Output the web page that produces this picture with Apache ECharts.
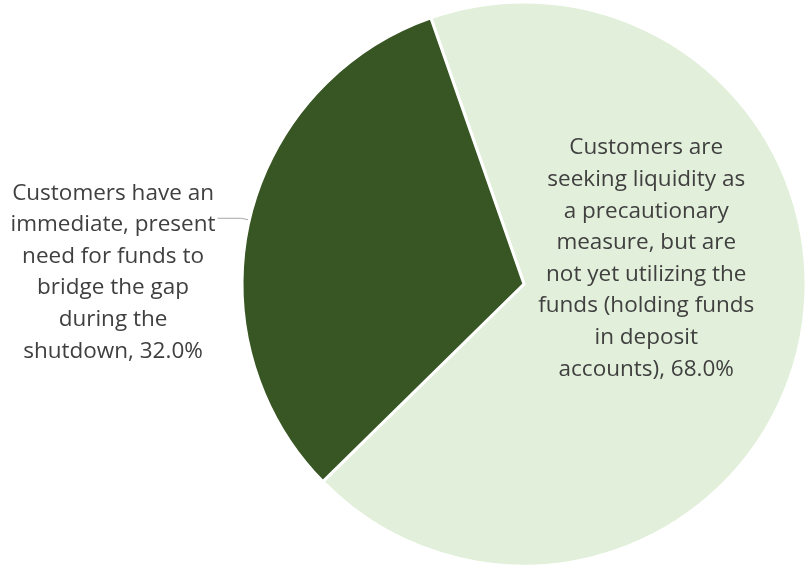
<!DOCTYPE html>
<html>
<head>
<meta charset="utf-8">
<script src="https://cdn.jsdelivr.net/npm/echarts@6/dist/echarts.min.js"></script>
<style>
  html, body { margin: 0; padding: 0; background: #ffffff; }
  #chart { width: 807px; height: 565px; }
</style>
</head>
<body>
<div id="chart"></div>
<script>
// Slice names, wrapped the way they appear on the chart
const categories = [
  ['Customers are', 'seeking liquidity as', 'a precautionary', 'measure, but are', 'not yet utilizing the', 'funds (holding funds', 'in deposit', 'accounts)'],
  ['Customers have an', 'immediate, present', 'need for funds to', 'bridge the gap', 'during the', 'shutdown']
];
const shares = [68.0, 32.0];
const sliceColors = ['#E2EFDA', '#375623'];

const FONT = '"Open Sans", "Noto Sans", sans-serif';
const FONT_SIZE = 22.5;
const TEXT_COLOR = '#404040';

function buildLabel(lines, value) {
  const all = lines.slice();
  all[all.length - 1] = all[all.length - 1] + ', ' + value.toFixed(1) + '%';
  return all.map(l => '{c|' + l + '}').join('\n');
}

const chart = echarts.init(document.getElementById('chart'), null, { renderer: 'canvas' });

const data = shares.map((v, i) => ({
  name: categories[i].join(' '),
  value: v,
  itemStyle: { color: sliceColors[i] },
  label: i === 0
    ? { position: 'inside' }
    : { position: 'outside', padding: [108, 0, 0, 0], distanceToLabelLine: 2 },
  labelLine: i === 0 ? { show: false } : { show: true, length: 8, length2: 24 }
}));

chart.setOption({
  backgroundColor: '#ffffff',
  animation: false,
  series: [{
    type: 'pie',
    center: [524, 284],
    radius: [0, 282],
    startAngle: 109.3,
    clockwise: true,
    avoidLabelOverlap: false,
    bleedMargin: 0,
    data: data,
    itemStyle: { borderColor: '#ffffff', borderWidth: 3 },
    label: {
      show: true,
      formatter: p => buildLabel(categories[p.dataIndex], p.value),
      fontFamily: FONT,
      fontSize: FONT_SIZE,
      color: TEXT_COLOR,
      rich: {
        c: { align: 'center', fontFamily: FONT, fontSize: FONT_SIZE, lineHeight: 31.6, color: TEXT_COLOR }
      }
    },
    labelLine: {
      lineStyle: { color: '#a6a6a6', width: 1 }
    },
    labelLayout: function (params) {
      if (params.dataIndex === 0) {
        return { dx: -18, dy: -58 };
      }
      return {};
    }
  }]
});
</script>
</body>
</html>
